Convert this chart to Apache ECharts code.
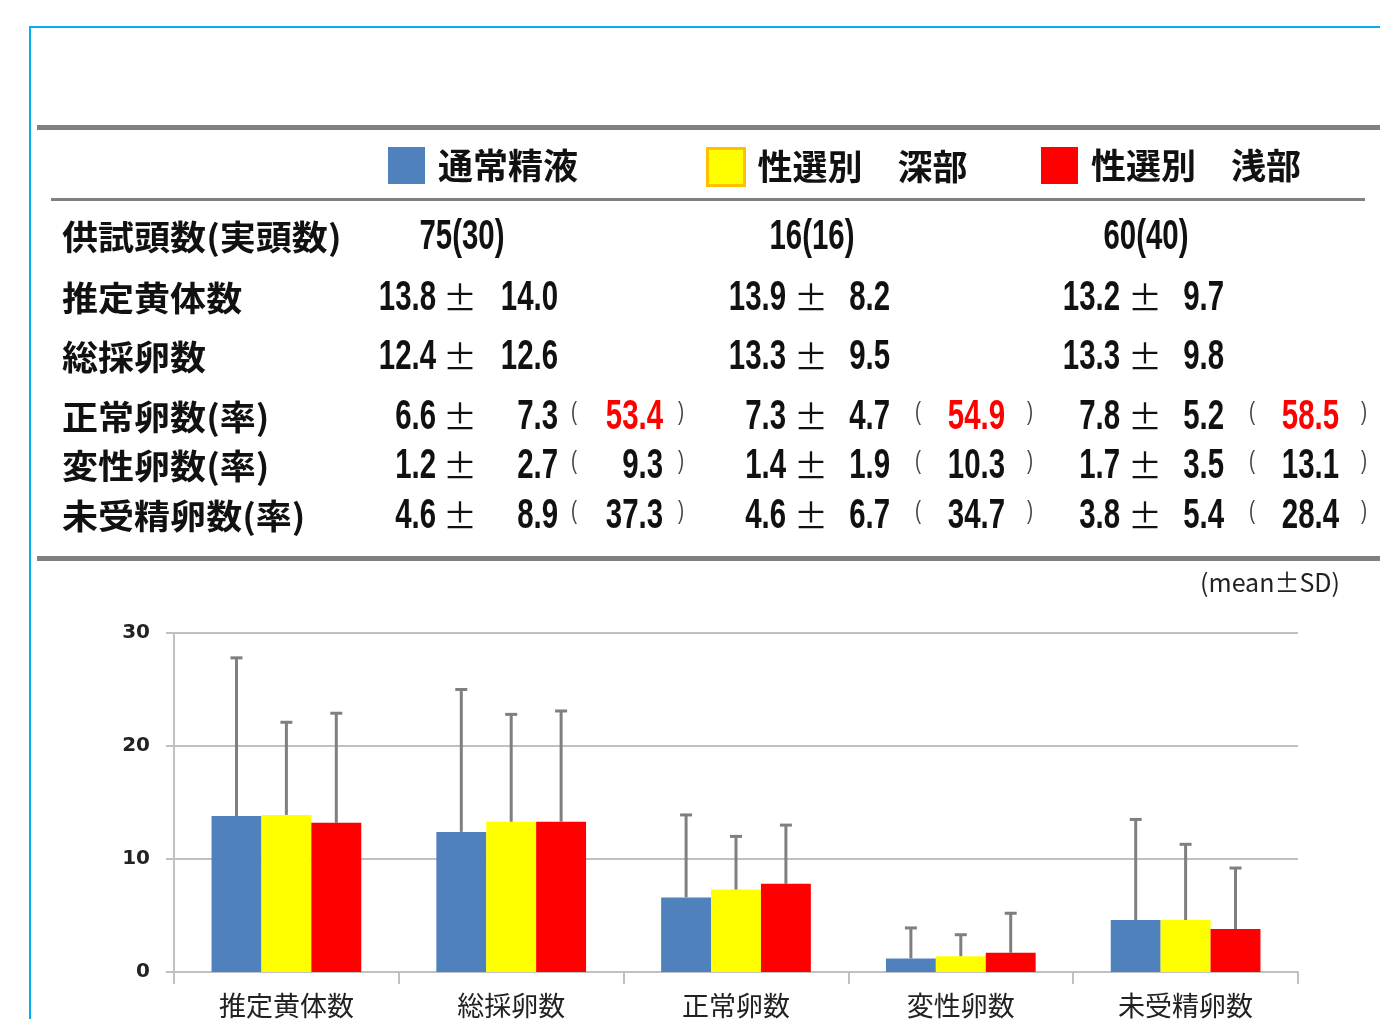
<!DOCTYPE html>
<html>
<head>
<meta charset="utf-8">
<script src="https://cdn.jsdelivr.net/npm/echarts@6/dist/echarts.min.js"></script>
<style>
html,body{margin:0;padding:0;background:#fff;}
#chart{width:1380px;height:1019px;}
</style>
</head>
<body>
<div id="chart"></div>
<script>
// ---- data ----
const groups = ['通常精液', '性選別　深部', '性選別　浅部'];
const rowLabels = ['供試頭数(実頭数)', '推定黄体数', '総採卵数', '正常卵数(率)', '変性卵数(率)', '未受精卵数(率)'];
const headCounts = ['75(30)', '16(16)', '60(40)'];
const categories = ['推定黄体数', '総採卵数', '正常卵数', '変性卵数', '未受精卵数'];
const meanBlue = [13.8, 12.4, 6.6, 1.2, 4.6];
const sdBlue = [14.0, 12.6, 7.3, 2.7, 8.9];
const meanYellow = [13.9, 13.3, 7.3, 1.4, 4.6];
const sdYellow = [8.2, 9.5, 4.7, 1.9, 6.7];
const meanRed = [13.2, 13.3, 7.8, 1.7, 3.8];
const sdRed = [9.7, 9.8, 5.2, 3.5, 5.4];
const rateBlue = [53.4, 9.3, 37.3];
const rateYellow = [54.9, 10.3, 34.7];
const rateRed = [58.5, 13.1, 28.4];
const yTicks = [0, 10, 20, 30];
const noteText = '(mean±SD)';

// ---- layout / style ----
const colors = ['#4F81BD', '#FFFF00', '#FF0000'];
const means = [meanBlue, meanYellow, meanRed];
const sds = [sdBlue, sdYellow, sdRed];
const rates = [rateBlue, rateYellow, rateRed];

const CJK = '"Noto Sans CJK JP", "Noto Sans CJK SC", sans-serif';
const NUM = '"Liberation Sans", Arial, sans-serif';
const rowY = [237, 298, 357, 417, 466, 516];
const meanRight = [436, 786, 1120];
const pmCenter = [460, 811, 1145];
const sdRight = [558, 890, 1224];
const lpX = [574, 918, 1252];
const rateRight = [663, 1005, 1339];
const rpX = [681, 1030, 1364];
const headCenter = [462, 812, 1146];
const NUMSX = 0.7;

function numText(x, y, text, align, fill) {
  return {
    type: 'text', x: x, y: y, scaleX: NUMSX, silent: true,
    style: { text: text, font: 'bold 42px ' + NUM, fill: fill || '#111',
      align: align, textAlign: align, verticalAlign: 'middle', textVerticalAlign: 'middle' }
  };
}
function parenText(x, y, text) {
  return {
    type: 'text', x: x, y: y, scaleX: 0.7, silent: true,
    style: { text: text, font: '26px ' + NUM, fill: '#444',
      align: 'center', textAlign: 'center', verticalAlign: 'middle', textVerticalAlign: 'middle' }
  };
}
function pmText(x, y) {
  return {
    type: 'text', x: x, y: y, silent: true,
    style: { text: '±', font: '34px ' + CJK, fill: '#111',
      align: 'center', textAlign: 'center', verticalAlign: 'middle', textVerticalAlign: 'middle' }
  };
}

const graphics = [];
// frame
graphics.push({ type: 'rect', silent: true, shape: { x: 30, y: 27, width: 1400, height: 1100 },
  style: { fill: 'none', stroke: '#00B0F0', lineWidth: 2 } });
// rules
graphics.push({ type: 'rect', silent: true, shape: { x: 37, y: 125, width: 1343, height: 5 }, style: { fill: '#808080' } });
graphics.push({ type: 'rect', silent: true, shape: { x: 51, y: 198, width: 1314, height: 3 }, style: { fill: '#808080' } });
graphics.push({ type: 'rect', silent: true, shape: { x: 37, y: 556, width: 1343, height: 5 }, style: { fill: '#808080' } });

// row labels
rowLabels.forEach((t, i) => {
  graphics.push({ type: 'text', x: 62, y: rowY[i], scaleX: 1.06, silent: true,
    style: { text: t, font: 'bold 34px ' + CJK, fill: '#111', align: 'left', textAlign: 'left',
      verticalAlign: 'middle', textVerticalAlign: 'middle' } });
});
// head counts
headCounts.forEach((t, g) => {
  graphics.push(numText(headCenter[g], rowY[0], t, 'center'));
});
// mean ± sd rows (rows 1..5 of table map to categories 0..4)
for (let c = 0; c < categories.length; c++) {
  const y = rowY[c + 1];
  for (let g = 0; g < 3; g++) {
    graphics.push(numText(meanRight[g], y, means[g][c].toFixed(1), 'right'));
    graphics.push(pmText(pmCenter[g], y));
    graphics.push(numText(sdRight[g], y, sds[g][c].toFixed(1), 'right'));
    if (c >= 2) {
      const r = c - 2;
      graphics.push(parenText(lpX[g], y - 4, '('));
      graphics.push(numText(rateRight[g], y, rates[g][r].toFixed(1), 'right', r === 0 ? '#FF0000' : '#111'));
      graphics.push(parenText(rpX[g], y - 4, ')'));
    }
  }
}
// note
graphics.push({ type: 'text', x: 1340, y: 582, silent: true,
  style: { text: noteText, font: '25px ' + CJK, fill: '#222', align: 'right', textAlign: 'right',
    verticalAlign: 'middle', textVerticalAlign: 'middle' } });

const legendLefts = [388, 706, 1041];
const legends = groups.map((g, i) => ({
  data: [g], left: legendLefts[i], top: 147, padding: 0, orient: 'horizontal',
  icon: 'rect', itemWidth: 37, itemHeight: 37, selectedMode: false,
  itemStyle: i === 1 ? { borderColor: '#FFC000', borderWidth: 3 } : {},
  textStyle: { fontFamily: CJK, fontSize: 35, fontWeight: 'bold', color: '#111', padding: [0, 0, 0, 8] }
}));

const barSeries = groups.map((g, i) => ({
  name: g, type: 'bar', data: means[i], barWidth: '22.2%', barGap: '0%',
  itemStyle: { color: colors[i] }, z: 2
}));
const errSeries = groups.map((g, i) => ({
  name: g + '_sd', type: 'custom', z: 5, silent: true,
  encode: { x: 0, y: 1 },
  data: means[i].map((m, c) => [c, m, sds[i][c]]),
  renderItem: function (params, api) {
    const ci = api.value(0), m = api.value(1), s = api.value(2);
    const band = api.size([1, 0])[0];
    const off = (i - 1) * band * 0.222;
    const p0 = api.coord([ci, m]);
    const p1 = api.coord([ci, m + s]);
    const x = p0[0] + off;
    const st = { stroke: '#7F7F7F', lineWidth: 3 };
    return { type: 'group', children: [
      { type: 'line', shape: { x1: x, y1: p0[1], x2: x, y2: p1[1] }, style: st },
      { type: 'line', shape: { x1: x - 6, y1: p1[1], x2: x + 6, y2: p1[1] }, style: st }
    ] };
  }
}));

const chart = echarts.init(document.getElementById('chart'), null, { renderer: 'canvas' });
chart.setOption({
  animation: false,
  backgroundColor: '#fff',
  legend: legends,
  grid: { left: 174, right: 82, top: 633, bottom: 46, containLabel: false },
  xAxis: {
    type: 'category', data: categories,
    axisLine: { show: true, lineStyle: { color: '#C0C0C0', width: 2 } },
    axisTick: { show: true, length: 12, lineStyle: { color: '#C0C0C0', width: 2 } },
    axisLabel: { fontFamily: CJK, fontSize: 27, color: '#222', margin: 20 }
  },
  yAxis: {
    type: 'value', min: yTicks[0], max: yTicks[yTicks.length - 1], interval: 10,
    axisLine: { show: true, lineStyle: { color: '#C0C0C0', width: 2 } },
    axisTick: { show: true, length: 8, lineStyle: { color: '#C0C0C0', width: 2 } },
    splitLine: { show: true, lineStyle: { color: '#C0C0C0', width: 2 } },
    axisLabel: { fontFamily: '"DejaVu Sans", sans-serif', fontSize: 20, fontWeight: 'bold', color: '#222', margin: 24 }
  },
  graphic: { elements: graphics },
  series: barSeries.concat(errSeries)
});
</script>
</body>
</html>
